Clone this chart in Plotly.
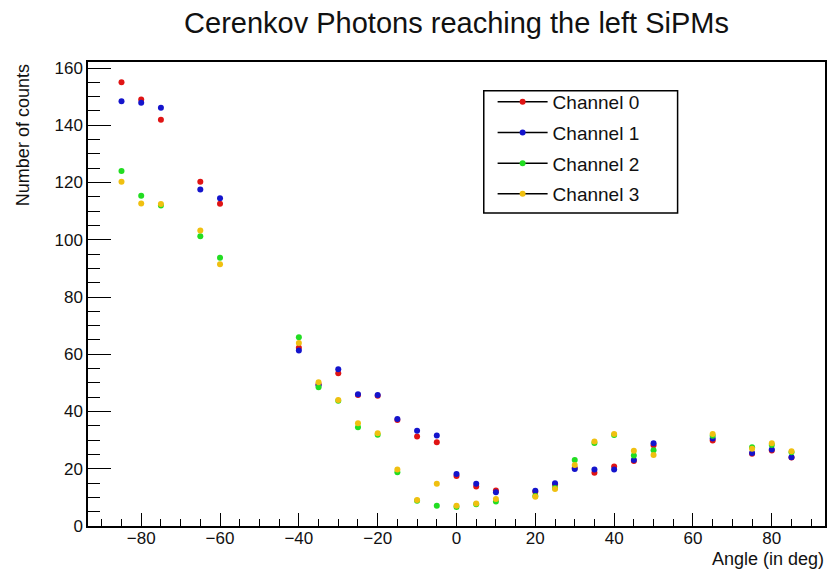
import plotly.graph_objects as go

# Scan angles (degrees)
angles = [-85, -80, -75, -65, -60, -40, -35, -30, -25, -20, -15, -10, -5, 0,
          5, 10, 20, 25, 30, 35, 40, 45, 50, 65, 75, 80, 85]

# Counts per SiPM channel
ch0 = [155.0, 149.0, 141.9, 120.3, 112.6, 62.3, 49.5, 53.4, 45.8, 45.5, 37.0, 31.3, 29.3, 17.5,
       13.8, 12.4, 12.0, 14.5, 20.3, 18.6, 20.8, 22.7, 28.2, 29.9, 25.2, 26.4, 23.9]
ch1 = [148.4, 147.9, 146.1, 117.6, 114.5, 61.3, 49.2, 54.8, 46.0, 45.8, 37.4, 33.3, 31.6, 18.2,
       14.8, 11.8, 12.3, 14.9, 19.9, 19.7, 19.7, 23.1, 28.9, 30.6, 25.5, 26.7, 24.0]
ch2 = [124.0, 115.4, 112.0, 101.2, 93.7, 65.9, 48.5, 43.8, 34.5, 31.9, 18.8, 8.8, 7.1, 6.6,
       7.6, 8.6, 10.5, 13.3, 23.1, 29.0, 31.8, 24.6, 26.5, 31.5, 27.5, 28.3, 25.8]
ch3 = [120.3, 112.7, 112.5, 103.2, 91.4, 63.9, 50.2, 44.0, 35.9, 32.4, 19.7, 9.1, 14.8, 7.1,
       7.9, 9.4, 10.2, 12.9, 21.3, 29.5, 32.1, 26.3, 24.8, 32.1, 27.0, 28.9, 26.1]

channels = [ch0, ch1, ch2, ch3]
names = ["Channel 0", "Channel 1", "Channel 2", "Channel 3"]
colors = ["#e01414", "#1414cc", "#22dd22", "#f0c010"]

FONT = "Liberation Sans, Arial, Helvetica, sans-serif"

fig = go.Figure()

for vals, name, col in zip(channels, names, colors):
    # data points
    fig.add_trace(go.Scatter(
        x=angles, y=vals, mode="markers", name=name, showlegend=False,
        marker=dict(color=col, size=6, symbol="circle"),
        legendgroup=name,
    ))
    # legend entry: black line with coloured marker
    fig.add_trace(go.Scatter(
        x=[None], y=[None], mode="lines+markers", name=name,
        line=dict(color="black", width=1.5),
        marker=dict(color=col, size=6, symbol="circle"),
        legendgroup=name,
    ))

axis_common = dict(
    showgrid=False, zeroline=False, showline=True, linecolor="black", linewidth=1.5,
    mirror=True, ticks="inside", tickcolor="black", tickwidth=1.3,
    tickfont=dict(family=FONT, size=17, color="#111"),
)

fig.update_xaxes(
    range=[-93.5, 93.5], dtick=20, tick0=0, ticklen=13, ticklabelstandoff=-4,
    minor=dict(ticks="inside", ticklen=7, dtick=5, tick0=0, tickcolor="black",
               tickwidth=1.3, showgrid=False),
    **axis_common,
)
fig.update_yaxes(
    range=[0, 162.1], dtick=20, tick0=0, ticklen=23,
    minor=dict(ticks="inside", ticklen=12, dtick=5, tick0=0, tickcolor="black",
               tickwidth=1.3, showgrid=False),
    **axis_common,
)

# legend frame
fig.add_shape(type="rect", xref="paper", yref="paper",
              x0=0.537, x1=0.80, y0=0.6746, y1=0.938,
              line=dict(color="black", width=1.5), fillcolor="white", layer="below")

fig.update_layout(
    width=831, height=569,
    margin=dict(l=88, r=4, t=62, b=43),
    paper_bgcolor="white", plot_bgcolor="white",
    title=dict(text="Cerenkov Photons reaching the left SiPMs",
               font=dict(family=FONT, size=29, color="#111"),
               x=0.5, xref="paper", xanchor="center",
               y=1 - 23 / 569, yref="container", yanchor="middle"),
    legend=dict(x=0.549, y=0.955, xanchor="left", yanchor="top",
                bgcolor="rgba(0,0,0,0)", borderwidth=0,
                font=dict(family=FONT, size=19, color="#111"),
                tracegroupgap=3, itemwidth=50),
    annotations=[
        dict(text="Angle (in deg)", xref="paper", yref="paper",
             x=1.0014, y=-0.071, xanchor="right", yanchor="middle",
             showarrow=False, font=dict(family=FONT, size=18, color="#111")),
        dict(text="Number of counts", xref="paper", yref="paper",
             x=-0.088, y=1.0, xanchor="center", yanchor="top", textangle=-90,
             showarrow=False, font=dict(family=FONT, size=18, color="#111")),
    ],
)

fig.write_html("out.html")
